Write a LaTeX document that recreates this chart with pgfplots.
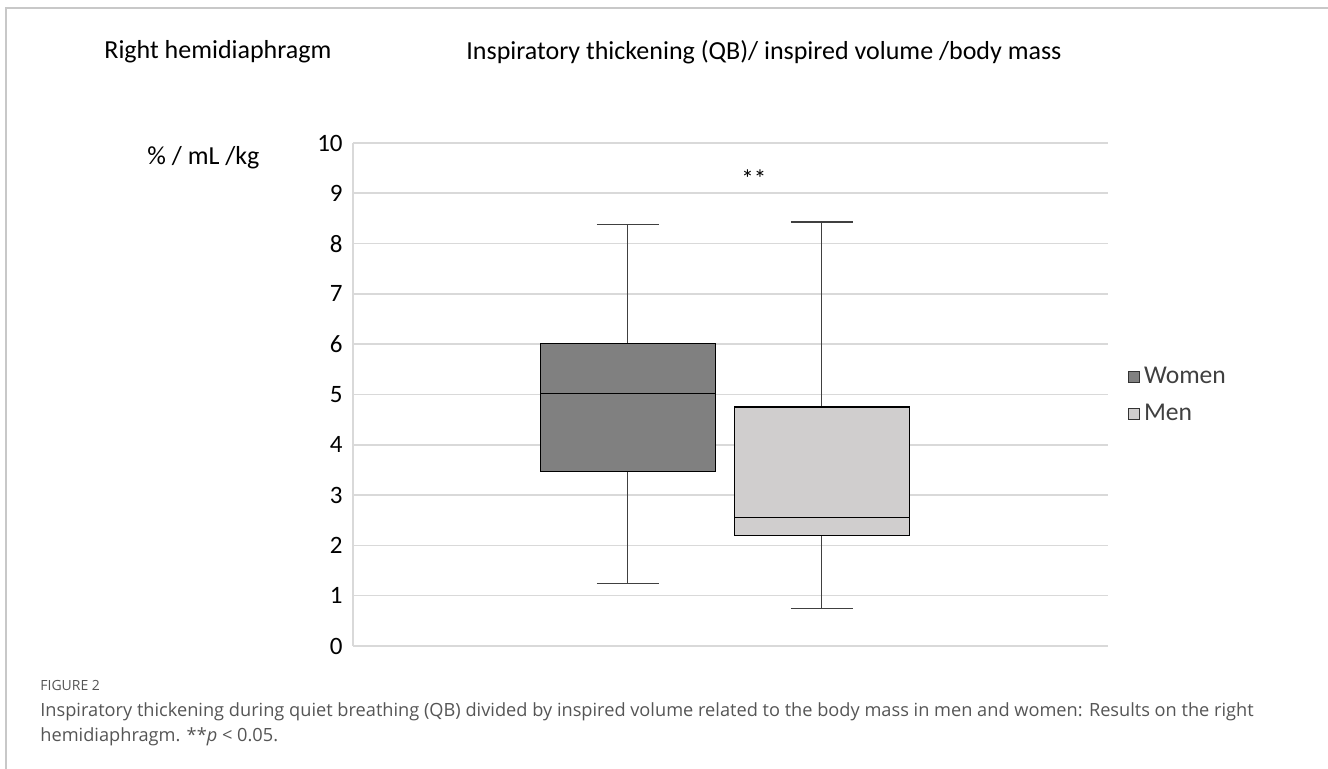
\documentclass[border=0pt]{standalone}
\usepackage{pgfplots}
\pgfplotsset{compat=1.18}
\usepgfplotslibrary{statistics}
\usepackage{fontspec}
\setmainfont{Carlito}
\newfontfamily\capfont{Open Sans}
\definecolor{gridgray}{HTML}{D9D9D9}
\definecolor{womenfill}{HTML}{808080}
\definecolor{menfill}{HTML}{D0CECE}
\definecolor{captext}{HTML}{555555}
\definecolor{framegray}{HTML}{C8C8C8}

\begin{document}
\begin{tikzpicture}
% 1 unit = 1 px of the 1328x769 reference, y counted from the bottom
\begin{scope}[x=0.5pt,y=0.5pt]
\path[use as bounding box] (0,0) rectangle (1328,769);
\draw[framegray, line width=1pt] (6,0) -- (6,761) -- (1328,761);
\node[anchor=west, inner sep=0pt, font=\fontsize{13}{15}\selectfont] at (104,717) {Right hemidiaphragm};
\node[anchor=west, inner sep=0pt, font=\fontsize{13}{15}\selectfont] at (466,717) {Inspiratory thickening (QB)/ inspired volume /body mass};
\node[anchor=west, inner sep=0pt, font=\fontsize{13}{15}\selectfont] at (147,611) {\% / mL /kg};
\node[anchor=west, inner sep=0pt, text=captext, font=\capfont\fontsize{7}{8}\selectfont] at (40,83) {FIGURE 2};
\node[anchor=north west, text=captext, align=left, inner sep=0pt,
      font=\capfont\fontsize{9.1}{12.5}\selectfont] at (40,67)
  {Inspiratory thickening during quiet breathing (QB) divided by inspired volume related to the body mass in men and women: Results on the right\\
   hemidiaphragm. **\textit{p} < 0.05.};
\end{scope}

\begin{axis}[
    at={(176.5pt,61.5pt)}, anchor=south west,
    scale only axis,
    width=377.5pt, height=251.5pt,
    xmin=0, xmax=1,
    ymin=0, ymax=10,
    ytick={0,1,...,10},
    xtick=\empty,
    major tick length=0pt,
    axis x line*=bottom, axis y line*=left,
    axis line style={draw=gridgray, line width=0.8pt, -},
    ymajorgrids=true,
    grid style={draw=gridgray, line width=0.8pt},
    tick label style={font=\fontsize{12.5}{15}\selectfont},
    /pgf/number format/assume math mode=true,
    yticklabel style={anchor=east, inner sep=0pt, xshift=-5pt},
    legend style={at={(1.026,0.498)}, anchor=west, draw=none, fill=none,
        font=\fontsize{12.8}{15}\selectfont, text=black!75,
        row sep=5pt, inner sep=0pt},
    legend cell align=left,
    clip=false,
    boxplot/draw direction=y,
    boxplot/every whisker/.style={draw=black!75, line width=0.6pt},
]
\addplot[forget plot, boxplot prepared={
        median=5.02, upper quartile=6.02, lower quartile=3.47,
        upper whisker=8.38, lower whisker=1.25,
        draw position=0.364, box extend=0.232, whisker extend=0.082},
    draw=black, line width=0.6pt, fill=womenfill]
    coordinates {};
\addplot[forget plot, boxplot prepared={
        median=2.55, upper quartile=4.75, lower quartile=2.20,
        upper whisker=8.43, lower whisker=0.74,
        draw position=0.621, box extend=0.232, whisker extend=0.082},
    draw=black, line width=0.6pt, fill=menfill]
    coordinates {};
\node[font=\fontsize{12.5}{15}\selectfont] at (axis cs:0.531,9.3) {**};

\addlegendimage{legend image code/.code={\draw[fill=womenfill, draw=black!80, line width=0.5pt] (0pt,-2.75pt) rectangle (5.5pt,2.75pt);}}
\addlegendimage{legend image code/.code={\draw[fill=menfill, draw=black!80, line width=0.5pt] (0pt,-2.75pt) rectangle (5.5pt,2.75pt);}}
\legend{Women,Men}
\end{axis}
\end{tikzpicture}
\end{document}
